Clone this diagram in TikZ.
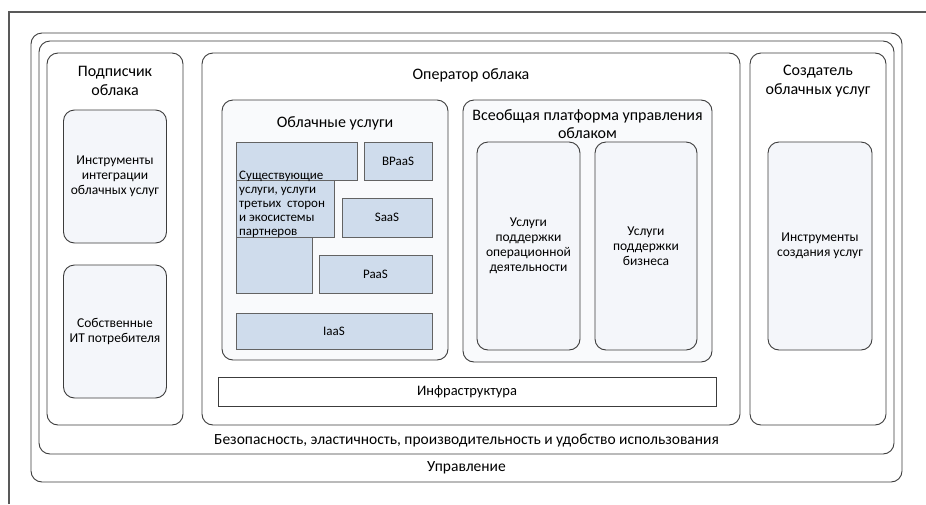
\documentclass[tikz,border=0pt]{standalone}
\usepackage{fontspec}
\setmainfont{Carlito}
\definecolor{ln}{HTML}{3C3C3C}
\definecolor{blu}{HTML}{CFDCEC}
\definecolor{pal}{HTML}{F4F6FA}
\definecolor{pal2}{HTML}{F9FAFC}
\begin{document}
\begin{tikzpicture}[x=1pt,y=-1pt,
  rbox/.style={draw=ln,line width=0.9pt,rounded corners=11pt,inner sep=0pt,fill=white},
  ibox/.style={draw=ln,line width=0.9pt,rounded corners=11pt,inner sep=0pt,fill=pal,align=center,font=\fontsize{13.5}{15}\selectfont},
  sbox/.style={draw=ln!80,line width=0.9pt,inner sep=0pt,fill=blu,font=\fontsize{13}{14}\selectfont},
  ttl/.style={align=center,font=\fontsize{16}{18.5}\selectfont,inner sep=0pt},
  lbl/.style={align=center,font=\fontsize{15.5}{17}\selectfont,inner sep=0pt}]
\useasboundingbox (0,0) rectangle (926,504);
\fill[white] (0,0) rectangle (926,504);
\draw[ln!85,line width=1.4pt] (9,504) -- (9,12) -- (926,12);
% governance
\node[rbox,minimum width=871,minimum height=449] (gov) at (466.5,257.5) {};
\node[rbox,fill=white,minimum width=855,minimum height=413] (sec) at (466.5,247.5) {};
\node[lbl] (govt) at (466.5,468) {Управление};
\node[lbl] (sect) at (466.5,440) {Безопасность, эластичность, производительность и удобство использования};
% subscriber
\node[rbox,minimum width=136,minimum height=372] (sub) at (115,239) {};
\node[ttl] (subt) at (115,81) {Подписчик\\облака};
\node[ibox,minimum width=103,minimum height=133] (integ) at (115,176.5) {Инструменты\\интеграции\\облачных услуг};
\node[ibox,minimum width=103,minimum height=133] (own) at (115,331.5) {Собственные\\ИТ потребителя};
% operator
\node[rbox,minimum width=538,minimum height=372] (op) at (471,239) {};
\node[ttl] (opt) at (471,75) {Оператор облака};
\node[rbox,fill=pal2,minimum width=226,minimum height=260] (cs) at (335,230) {};
\node[ttl] (cst) at (335,123) {Облачные услуги};
\node[sbox,minimum width=121,minimum height=38] (ex1) at (296.5,161) {};
\node[sbox,minimum width=76,minimum height=56] (ex3) at (274,265) {};
\node[sbox,minimum width=98,minimum height=57] (ex2) at (285,208.5) {};
\node[anchor=west,align=left,inner sep=0pt,font=\fontsize{13}{14}\selectfont] (ext) at (239,204)
  {Существующие\\услуги, услуги\\третьих\ \ сторон\\и экосистемы\\партнеров};
\node[sbox,minimum width=68,minimum height=38] (bpaas) at (398,161) {BPaaS};
\node[sbox,minimum width=90,minimum height=39] (saas) at (387,217.5) {SaaS};
\node[sbox,minimum width=113,minimum height=38] (paas) at (375.5,274) {PaaS};
\node[sbox,minimum width=196,minimum height=36] (iaas) at (334,331) {IaaS};
\node[rbox,fill=pal2,minimum width=249,minimum height=262] (mp) at (587.5,231) {};
\node[ttl] (mpt) at (587.5,124) {Всеобщая платформа управления\\облаком};
\node[ibox,minimum width=103,minimum height=208] (ops) at (528.5,246) {Услуги\\поддержки\\операционной\\деятельности};
\node[ibox,minimum width=102,minimum height=208] (biz) at (646,246) {Услуги\\поддержки\\бизнеса};
\node[draw=ln,line width=0.9pt,fill=white,minimum width=498,minimum height=29,inner sep=0pt,font=\fontsize{14.5}{16}\selectfont] (infra) at (467,391.5) {Инфраструктура};
% creator
\node[rbox,minimum width=136,minimum height=372] (cr) at (818,239) {};
\node[ttl] (crt) at (818,81) {Создатель\\облачных услуг};
\node[ibox,minimum width=104,minimum height=208] (tools) at (820,246) {Инструменты\\создания услуг};
\end{tikzpicture}
\end{document}
